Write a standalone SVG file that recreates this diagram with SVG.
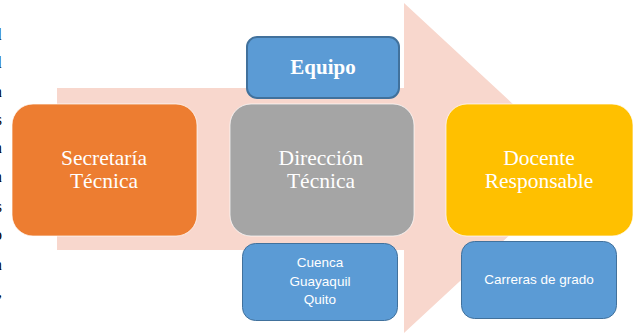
<svg xmlns="http://www.w3.org/2000/svg" width="635" height="335" viewBox="0 0 635 335">
  <style>
    .big { stroke: #FFFFFF; stroke-opacity: 0.7; stroke-width: 1; }
    .bigtxt { font-family: "Liberation Serif", "Times New Roman", serif; font-size: 21.5px; fill: #FFFFFF; text-anchor: middle; }
    .blue { fill: #5B9BD5; stroke: #41719C; }
    .smalltxt { font-family: "Liberation Sans", Arial, sans-serif; font-size: 13.5px; fill: #FFFFFF; text-anchor: middle; }
    .edge { font-family: "Liberation Serif", "Times New Roman", serif; font-size: 16px; fill: #000000; text-anchor: end; }
  </style>
  <rect width="635" height="335" fill="#FFFFFF"/>
  <g id="page-text">
    <text class="edge" x="2" y="40">l</text>
    <text class="edge" x="2" y="68">l</text>
    <text class="edge" x="2" y="97">n</text>
    <text class="edge" x="2" y="125">s</text>
    <text class="edge" x="2" y="153">n</text>
    <text class="edge" x="2" y="182">n</text>
    <text class="edge" x="2" y="212">s</text>
    <text class="edge" x="2" y="240">o</text>
    <text class="edge" x="2" y="270">n</text>
    <text class="edge" x="2" y="297">,</text>
  </g>
  <g id="process-arrow">
    <polygon points="57,88 404,88 404,3 582,168 404,333 404,250 57,250" fill="#F8D7CD"/>
  </g>
  <g id="connectors"></g>
  <g id="secretaria">
    <rect class="big" x="12" y="104" width="185" height="132" rx="21" fill="#ED7D31"/>
    <text class="bigtxt" x="104" y="165">Secretaría</text>
    <text class="bigtxt" x="104" y="188">Técnica</text>
  </g>
  <g id="direccion">
    <rect class="big" x="230" y="104" width="184" height="132" rx="21" fill="#A5A5A5"/>
    <text class="bigtxt" x="321" y="165">Dirección</text>
    <text class="bigtxt" x="321" y="188">Técnica</text>
  </g>
  <g id="docente">
    <rect class="big" x="446" y="104" width="187" height="132" rx="21" fill="#FFC000"/>
    <text class="bigtxt" x="539" y="165">Docente</text>
    <text class="bigtxt" x="539" y="188">Responsable</text>
  </g>
  <g id="equipo">
    <rect class="blue" x="247" y="37" width="152" height="61" rx="10" stroke-width="2"/>
    <text x="323" y="74" font-family="Liberation Serif, Times New Roman, serif" font-size="21" font-weight="bold" fill="#FFFFFF" text-anchor="middle">Equipo</text>
  </g>
  <g id="sedes">
    <rect class="blue" x="242.5" y="243.5" width="155" height="77" rx="13" stroke-width="1"/>
    <text class="smalltxt" x="320" y="267">Cuenca</text>
    <text class="smalltxt" x="320" y="285.5">Guayaquil</text>
    <text class="smalltxt" x="320" y="304">Quito</text>
  </g>
  <g id="carreras">
    <rect class="blue" x="461.5" y="241.5" width="155" height="77" rx="13" stroke-width="1"/>
    <text class="smalltxt" x="539" y="284">Carreras de grado</text>
  </g>
</svg>
